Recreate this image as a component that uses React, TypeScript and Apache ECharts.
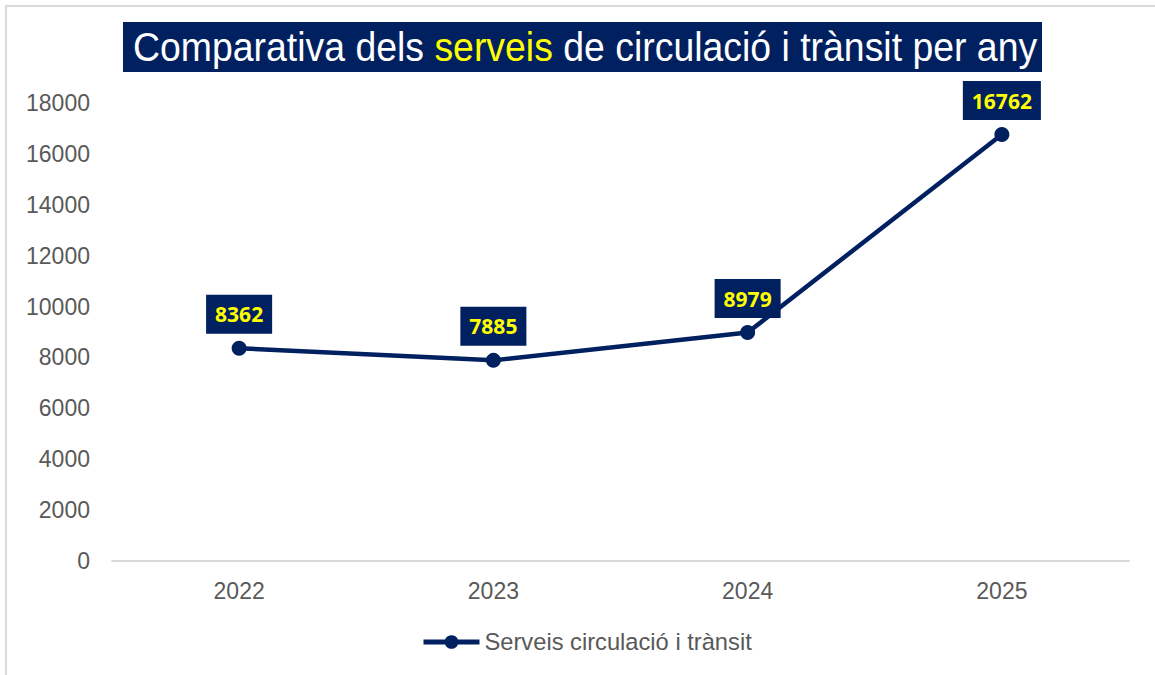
import React, { useEffect, useRef } from "react";
import * as echarts from "echarts";

const years = ["2022", "2023", "2024", "2025"];
const serveis = [8362, 7885, 8979, 16762];
const seriesName = "Serveis circulació i trànsit";
const titleParts = ["Comparativa dels ", "serveis", " de circulació i trànsit per any"];

const NAVY = "#002060";

export default function App() {
  const ref = useRef<HTMLDivElement>(null);
  useEffect(() => {
    if (!ref.current) return;
    const chart = echarts.init(ref.current, undefined, { renderer: "svg" });
    chart.setOption({
      animation: false,
      backgroundColor: "#ffffff",
      graphic: [
        {
          type: "rect",
          shape: { x: 6, y: 6, width: 1300, height: 800 },
          style: { fill: "none", stroke: "#d9d9d9", lineWidth: 2 },
          silent: true,
          z: -1,
        },
        {
          type: "rect",
          shape: { x: 123, y: 22, width: 919, height: 50 },
          style: { fill: NAVY },
          silent: true,
        },
        {
          type: "text",
          x: 133,
          y: 47,
          scaleX: 0.935,
          scaleY: 1,
          silent: true,
          style: {
            text: `{w|${titleParts[0]}}{y|${titleParts[1]}}{w|${titleParts[2]}}`,
            verticalAlign: "middle",
            align: "left",
            rich: {
              w: { fill: "#ffffff", fontSize: 40, fontFamily: "Liberation Sans" },
              y: { fill: "#FFFF00", fontSize: 40, fontFamily: "Liberation Sans" },
            },
          },
        },
      ],
      legend: {
        left: 421,
        top: 630,
        padding: 0,
        itemWidth: 56,
        itemHeight: 17,
        itemGap: 4,
        lineStyle: { width: 5 },
        textStyle: { color: "#595959", fontSize: 23.7, fontFamily: "Liberation Sans" },
        data: [seriesName],
      },
      grid: { left: 112, right: 26, top: 103, bottom: 114 },
      xAxis: {
        type: "category",
        data: years,
        boundaryGap: true,
        axisLine: { lineStyle: { color: "#d9d9d9", width: 2 } },
        axisTick: { show: false },
        axisLabel: { color: "#595959", fontSize: 23, fontFamily: "Liberation Sans", margin: 18 },
      },
      yAxis: {
        type: "value",
        min: 0,
        max: 18000,
        interval: 2000,
        splitLine: { show: false },
        axisLine: { show: false },
        axisTick: { show: false },
        axisLabel: {
          color: "#595959",
          fontSize: 23,
          fontFamily: "Liberation Sans",
          margin: 22,
          formatter: (v: number) => String(v),
        },
      },
      series: [
        {
          name: seriesName,
          type: "line",
          data: serveis,
          symbol: "circle",
          symbolSize: 15,
          itemStyle: { color: NAVY },
          lineStyle: { color: NAVY, width: 4.5 },
          label: {
            show: true,
            position: "top",
            distance: 7,
            backgroundColor: NAVY,
            color: "#FFFF00",
            fontWeight: "bold",
            fontSize: 21,
            fontFamily: "Open Sans",
            lineHeight: 23,
            padding: [8, 9, 8, 9],
          },
        },
      ],
    });
    return () => chart.dispose();
  }, []);
  return (
    <div
      ref={ref}
      style={{ position: "absolute", left: 0, top: 0, width: 1155, height: 675 }}
    />
  );
}
